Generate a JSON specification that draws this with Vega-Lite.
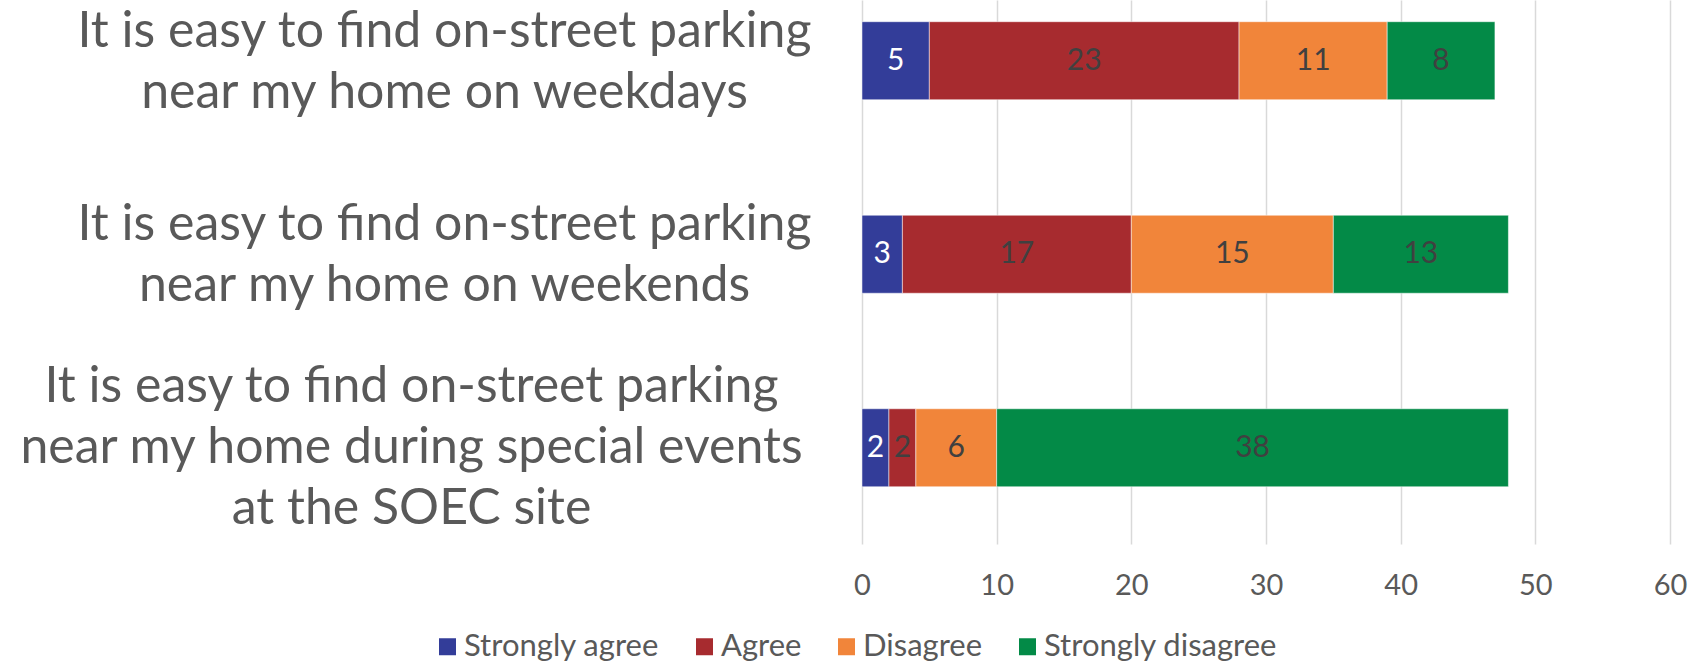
{
  "$schema": "https://vega.github.io/schema/vega-lite/v6.json",
  "width": 808,
  "height": 544,
  "autosize": {"type": "none"},
  "padding": {"left": 862, "top": 0, "right": 30, "bottom": 121},
  "background": "white",
  "config": {"view": {"stroke": null}, "font": "Lato"},
  "data": {
    "values": [
      {"statement": "It is easy to find on-street parking|near my home on weekdays", "response": "Strongly agree", "rank": 1, "count": 5},
      {"statement": "It is easy to find on-street parking|near my home on weekdays", "response": "Agree", "rank": 2, "count": 23},
      {"statement": "It is easy to find on-street parking|near my home on weekdays", "response": "Disagree", "rank": 3, "count": 11},
      {"statement": "It is easy to find on-street parking|near my home on weekdays", "response": "Strongly disagree", "rank": 4, "count": 8},
      {"statement": "It is easy to find on-street parking|near my home on weekends", "response": "Strongly agree", "rank": 1, "count": 3},
      {"statement": "It is easy to find on-street parking|near my home on weekends", "response": "Agree", "rank": 2, "count": 17},
      {"statement": "It is easy to find on-street parking|near my home on weekends", "response": "Disagree", "rank": 3, "count": 15},
      {"statement": "It is easy to find on-street parking|near my home on weekends", "response": "Strongly disagree", "rank": 4, "count": 13},
      {"statement": "It is easy to find on-street parking|near my home during special events|at the SOEC site", "response": "Strongly agree", "rank": 1, "count": 2},
      {"statement": "It is easy to find on-street parking|near my home during special events|at the SOEC site", "response": "Agree", "rank": 2, "count": 2},
      {"statement": "It is easy to find on-street parking|near my home during special events|at the SOEC site", "response": "Disagree", "rank": 3, "count": 6},
      {"statement": "It is easy to find on-street parking|near my home during special events|at the SOEC site", "response": "Strongly disagree", "rank": 4, "count": 38}
    ]
  },
  "transform": [
    {"stack": "count", "groupby": ["statement"], "sort": [{"field": "rank", "order": "ascending"}], "as": ["x0", "x1"]},
    {"calculate": "(datum.x0 + datum.x1) / 2", "as": "xmid"}
  ],
  "encoding": {
    "y": {
      "field": "statement",
      "type": "nominal",
      "sort": null,
      "scale": {"paddingInner": 0.597, "paddingOuter": 0.204, "align": 0.275},
      "axis": {
        "title": null,
        "domain": false,
        "ticks": false,
        "tickSize": 0,
        "labelExpr": "split(datum.value, '|')",
        "labelAlign": "center",
        "labelBaseline": "middle",
        "labelFontSize": 50,
        "labelLineHeight": 61,
        "labelColor": "#595959",
        "labelLimit": 0,
        "labelOffset": {"condition": {"test": "indexof(datum.value, 'SOEC') >= 0", "value": -61}, "value": -29},
        "labelPadding": {"condition": {"test": "indexof(datum.value, 'SOEC') >= 0", "value": 451}, "value": 418}
      }
    }
  },
  "layer": [
    {
      "mark": {"type": "bar", "stroke": "white", "strokeWidth": 0.5},
      "encoding": {
        "x": {
          "field": "x0",
          "type": "quantitative",
          "scale": {"domain": [0, 60], "nice": false},
          "axis": {
            "title": null,
            "values": [0, 10, 20, 30, 40, 50, 60],
            "domain": false,
            "ticks": false,
            "grid": true,
            "gridColor": "#d9d9d9",
            "gridWidth": 1.5,
            "labelFontSize": 29,
            "labelColor": "#595959",
            "labelPadding": 27,
            "labelFlush": false
          }
        },
        "x2": {"field": "x1"},
        "color": {
          "field": "response",
          "type": "nominal",
          "scale": {
            "domain": ["Strongly agree", "Agree", "Disagree", "Strongly disagree"],
            "range": ["#333D99", "#A72B2F", "#F1853A", "#038A47"]
          },
          "legend": {
            "title": null,
            "orient": "none",
            "direction": "horizontal",
            "legendX": -430,
            "legendY": 631,
            "symbolType": "square",
            "symbolSize": 289,
            "symbolStrokeWidth": 0,
            "labelFontSize": 31,
            "labelColor": "#595959",
            "labelOffset": 1,
            "columnPadding": 29,
            "labelLimit": 0
          }
        }
      }
    },
    {
      "mark": {"type": "text", "fontSize": 30, "baseline": "middle", "align": "center"},
      "encoding": {
        "x": {"field": "xmid", "type": "quantitative"},
        "text": {"field": "count", "type": "quantitative"},
        "color": {
          "condition": {"test": "datum.response === 'Strongly agree'", "value": "white"},
          "value": "#404040"
        }
      }
    }
  ]
}
